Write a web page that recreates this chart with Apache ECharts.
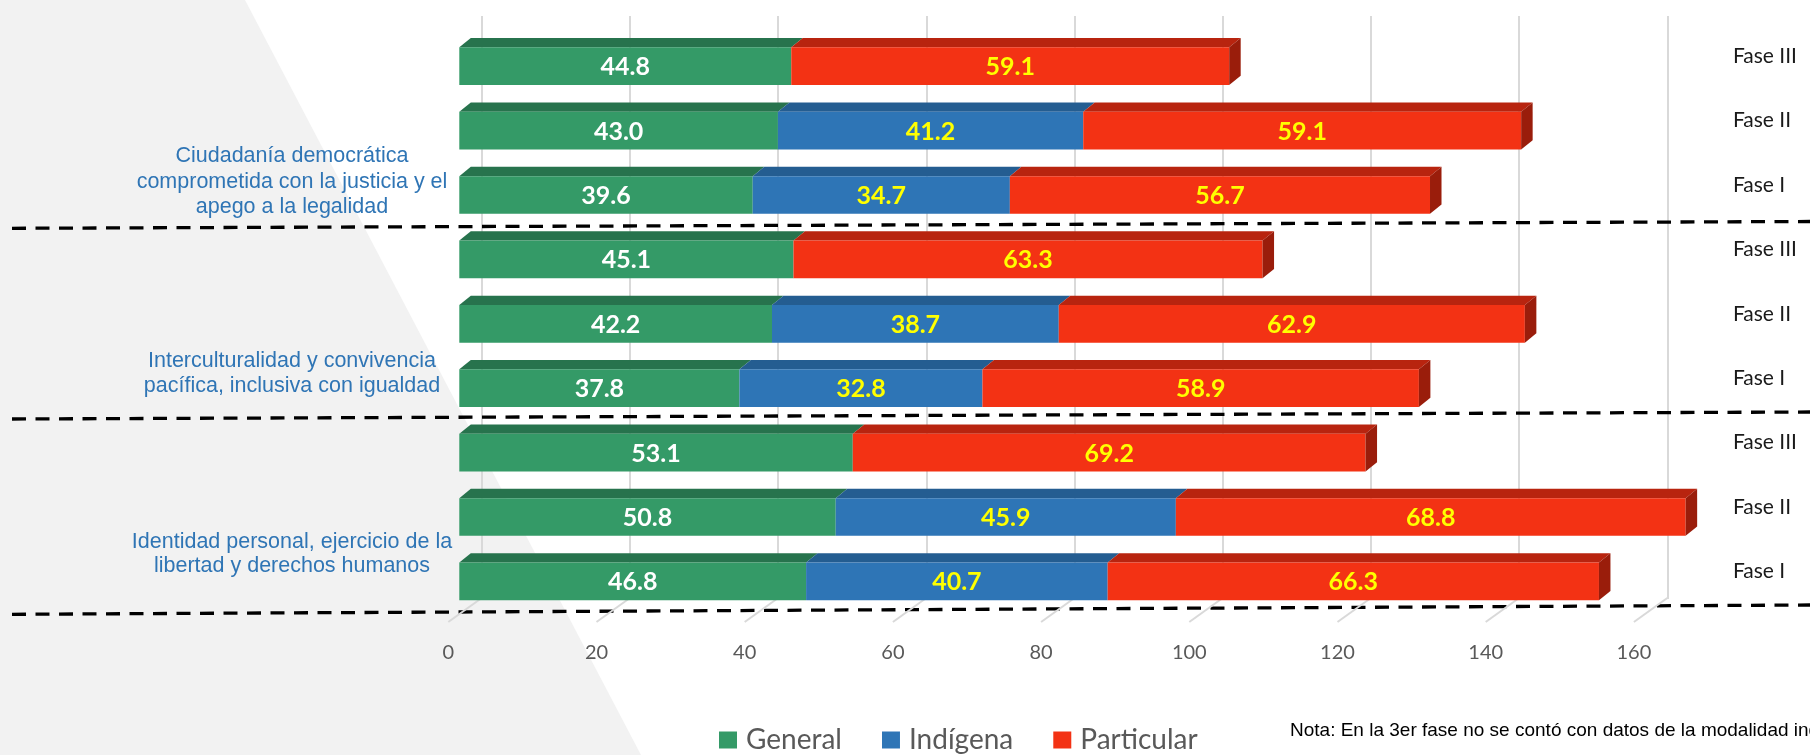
<!DOCTYPE html>
<html>
<head>
<meta charset="utf-8">
<script src="https://cdn.jsdelivr.net/npm/echarts@6/dist/echarts.min.js"></script>
<style>
  html, body { margin: 0; padding: 0; background: #ffffff; }
  #chart { width: 1810px; height: 755px; }
</style>
</head>
<body>
<div id="chart"></div>
<script>
// Row labels, top to bottom (three phases for each formative field)
const phases = ['Fase III', 'Fase II', 'Fase I', 'Fase III', 'Fase II', 'Fase I', 'Fase III', 'Fase II', 'Fase I'];
const topics = [
  'Ciudadanía democrática\ncomprometida con la justicia y el\napego a la legalidad',
  'Interculturalidad y convivencia\npacífica, inclusiva con igualdad',
  'Identidad personal, ejercicio de la\nlibertad y derechos humanos'
];
const seriesNames = ['General', 'Indígena', 'Particular'];
const general    = [44.8, 43.0, 39.6, 45.1, 42.2, 37.8, 53.1, 50.8, 46.8];
const indigena   = [null, 41.2, 34.7, null, 38.7, 32.8, null, 45.9, 40.7];
const particular = [59.1, 59.1, 56.7, 63.3, 62.9, 58.9, 69.2, 68.8, 66.3];
const xTicks = [0, 20, 40, 60, 80, 100, 120, 140, 160];
const noteText = 'Nota: En la 3er fase no se contó con datos de la modalidad indígena.';

// Colours: front face, top face, end face, label colour
const palette = {
  'General':    { front: '#349a67', top: '#27734d', side: '#1f5e3f', label: '#ffffff' },
  'Indígena':   { front: '#2e75b6', top: '#245d91', side: '#1c4a74', label: '#ffff00' },
  'Particular': { front: '#f33214', top: '#b8240f', side: '#9a1d0b', label: '#ffff00' }
};

// Oblique projection of the bar depth
const BAR_DX = 11.5, BAR_DY = -9.3;     // bar front -> bar back
const FLOOR_DX = 33.4, FLOOR_DY = -24;  // floor front edge -> back wall
const BAR_RATIO = 0.585;                // bar thickness within its category band

// Stack the three series into [row, start, end, value, isLast]
function stacked(name) {
  const out = [];
  for (let r = 0; r < phases.length; r++) {
    const g = general[r], i = indigena[r], p = particular[r];
    if (name === 'General') out.push([r, 0, g, g, 0]);
    else if (name === 'Indígena') { if (i != null) out.push([r, g, g + i, i, 0]); }
    else { const s = g + (i || 0); out.push([r, s, s + p, p, 1]); }
  }
  return out;
}

function makeRender(name) {
  const c = palette[name];
  return function (params, api) {
    const row = api.value(0), v0 = api.value(1), v1 = api.value(2), val = api.value(3), last = api.value(4);
    const a = api.coord([v0, row]);
    const b = api.coord([v1, row]);
    const h = api.size([0, 1])[1] * BAR_RATIO;
    const yt = a[1] - h / 2, yb = a[1] + h / 2;
    const children = [
      { type: 'polygon', shape: { points: [[a[0], yt], [b[0], yt], [b[0] + BAR_DX, yt + BAR_DY], [a[0] + BAR_DX, yt + BAR_DY]] },
        style: { fill: c.top } },
      { type: 'rect', shape: { x: a[0], y: yt, width: b[0] - a[0], height: h },
        style: { fill: c.front } }
    ];
    if (last) {
      children.push({ type: 'polygon', shape: { points: [[b[0], yt], [b[0] + BAR_DX, yt + BAR_DY], [b[0] + BAR_DX, yb + BAR_DY], [b[0], yb]] },
        style: { fill: c.side } });
    }
    children.push({ type: 'text', style: {
      text: val.toFixed(1), x: (a[0] + b[0]) / 2, y: a[1] + 1,
      align: 'center', verticalAlign: 'middle',
      fill: c.label, fontSize: 25, fontWeight: 'bold', fontFamily: 'Lato'
    } });
    return { type: 'group', children: children };
  };
}

// Floor lines running from the back wall to the front edge at each tick
function renderFloor(params, api) {
  const f = api.coord([api.value(0), 0]);
  return { type: 'line', shape: { x1: f[0] + FLOOR_DX, y1: f[1] + FLOOR_DY, x2: f[0], y2: f[1] },
           style: { stroke: '#d9d9d9', lineWidth: 2 } };
}

const PLOT_W = 1185.6;
const chart = echarts.init(document.getElementById('chart'), null, { renderer: 'canvas' });

const barSeries = seriesNames.map(name => ({
  name: name,
  type: 'custom',
  xAxisIndex: 0, yAxisIndex: 0,
  renderItem: makeRender(name),
  itemStyle: { color: palette[name].front },
  encode: { x: [1, 2], y: 0 },
  data: stacked(name),
  clip: false,
  z: 5
}));

chart.setOption({
  backgroundColor: '#ffffff',
  animation: false,
  grid: [
    { left: 459.3, width: PLOT_W, top: 34, height: 579.6 },   // bar fronts
    { left: 481.7, width: PLOT_W, top: 16, height: 583 },     // back wall
    { left: 448.3, width: PLOT_W, top: 600, height: 22 },     // floor front edge
    { left: 459.3, width: PLOT_W, top: 24, height: 579.6 }    // phase labels
  ],
  xAxis: [
    { gridIndex: 0, type: 'value', min: 0, max: 160, interval: 20, show: false },
    { gridIndex: 1, type: 'value', min: 0, max: 160, interval: 20,
      axisLine: { show: false }, axisTick: { show: false }, axisLabel: { show: false },
      splitLine: { show: true, lineStyle: { color: '#d9d9d9', width: 2 } } },
    { gridIndex: 2, type: 'value', min: 0, max: 160, interval: 20, position: 'bottom',
      axisLine: { show: false }, axisTick: { show: false }, splitLine: { show: false },
      axisLabel: { show: true, margin: 21, color: '#595959', fontSize: 20, fontFamily: 'Lato', lineHeight: 20 } },
    { gridIndex: 3, type: 'value', min: 0, max: 160, show: false }
  ],
  yAxis: [
    { gridIndex: 0, type: 'category', data: phases, inverse: true, show: false },
    { gridIndex: 1, type: 'value', min: 0, max: 1, show: false },
    { gridIndex: 2, type: 'value', min: 0, max: 1, show: false },
    { gridIndex: 3, type: 'category', data: phases, inverse: true, position: 'right',
      axisLine: { show: false }, axisTick: { show: false }, splitLine: { show: false },
      axisLabel: { show: true, margin: 88, align: 'left', color: '#1a1a1a', fontSize: 21, fontFamily: 'Lato' } }
  ],
  legend: {
    data: seriesNames,
    left: 719, top: 725, padding: 0,
    icon: 'rect', itemWidth: 18, itemHeight: 17, itemGap: 40,
    textStyle: { color: '#595959', fontSize: 28, fontFamily: 'Lato', padding: [0, 0, 0, 4], lineHeight: 30 }
  },
  graphic: [
    // light grey backdrop on the left
    { type: 'polygon', z: -10, silent: true,
      shape: { points: [[0, 0], [245, 0], [641, 755], [0, 755]] }, style: { fill: '#f2f2f2' } },
    // group separators
    { type: 'line', z: 1, silent: true, shape: { x1: 12, y1: 228.3, x2: 1810, y2: 221.5 },
      style: { stroke: '#000000', lineWidth: 3.3, lineDash: [14, 9.5] } },
    { type: 'line', z: 1, silent: true, shape: { x1: 12, y1: 419, x2: 1810, y2: 412 },
      style: { stroke: '#000000', lineWidth: 3.3, lineDash: [14, 9.5] } },
    { type: 'line', z: 1, silent: true, shape: { x1: 12, y1: 614.3, x2: 1810, y2: 605 },
      style: { stroke: '#000000', lineWidth: 3.3, lineDash: [14, 9.5] } },
    // field names
    { type: 'text', z: 10, silent: true, style: { text: topics[0], x: 292, y: 182, align: 'center', verticalAlign: 'middle',
      fill: '#2f75b5', fontSize: 21.5, fontFamily: 'Liberation Sans', lineHeight: 25.5 } },
    { type: 'text', z: 10, silent: true, style: { text: topics[1], x: 292, y: 374, align: 'center', verticalAlign: 'middle',
      fill: '#2f75b5', fontSize: 21.5, fontFamily: 'Liberation Sans', lineHeight: 25 } },
    { type: 'text', z: 10, silent: true, style: { text: topics[2], x: 292, y: 553.6, align: 'center', verticalAlign: 'middle',
      fill: '#2f75b5', fontSize: 21.5, fontFamily: 'Liberation Sans', lineHeight: 24 } },
    // footnote
    { type: 'text', z: 10, silent: true, style: { text: noteText, x: 1290, y: 731, align: 'left', verticalAlign: 'middle',
      fill: '#000000', fontSize: 19, fontFamily: 'Liberation Sans' } }
  ],
  series: [
    { type: 'custom', name: 'floor', xAxisIndex: 2, yAxisIndex: 2, renderItem: renderFloor,
      data: xTicks.map(v => [v]), encode: { x: 0 }, clip: false, silent: true, z: 1 },
    ...barSeries
  ]
});
</script>
</body>
</html>
